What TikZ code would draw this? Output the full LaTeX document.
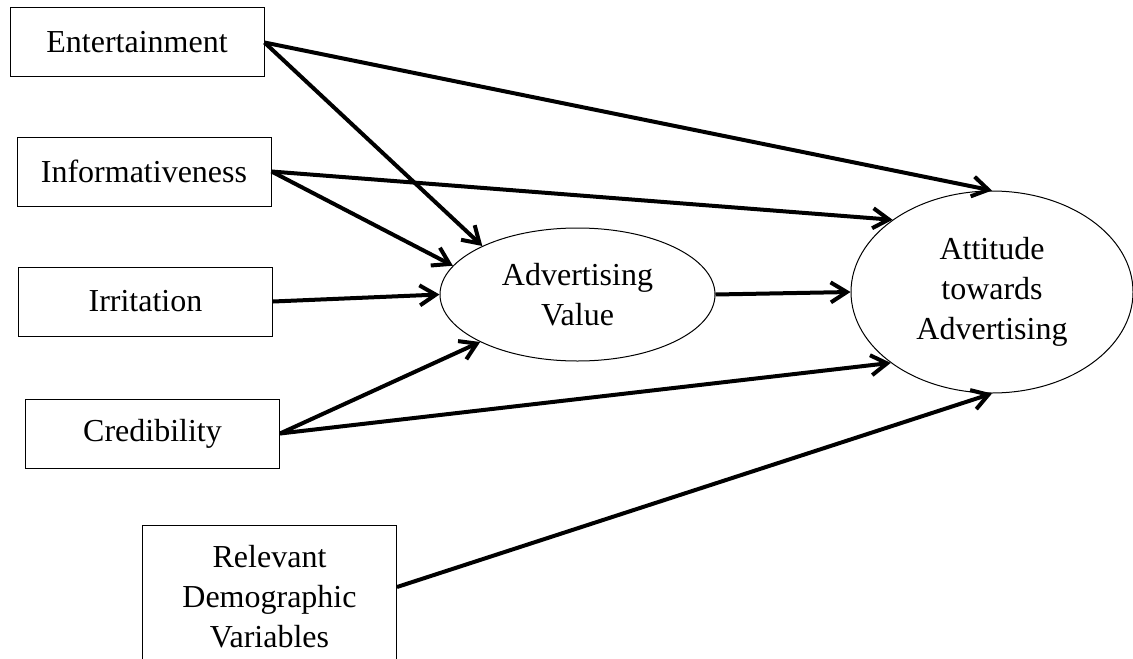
\documentclass[tikz,border=0pt]{standalone}
\usepackage{fontspec}
\setmainfont{Liberation Serif}
\usetikzlibrary{shapes.geometric,arrows.meta}

\begin{document}
\begin{tikzpicture}[
    x = 0.5pt,
    y = -0.5pt,
    every node/.style = {
      font = \fontsize{16}{20}\selectfont,
      align = center
    },
    factor/.style = {
      draw,
      line width = 0.5pt,
      minimum width = 127pt,
      minimum height = 34.5pt
    },
    construct/.style = {
      draw,
      ellipse,
      line width = 0.5pt,
      inner sep = 0pt
    },
    path/.style = {
      line width = 2pt,
      -{Straight Barb[length = 8pt, width = 10pt]}
    }
  ]
  \useasboundingbox (0,0) rectangle (1133,658);

  % The five boxes on the left
  \node[factor] (ent)  at (137,42.5)  {Entertainment};
  \node[factor] (inf)  at (144,171.5) {Informativeness};
  \node[factor] (irr)  at (145.5,301.5) {Irritation};
  \node[factor] (cred) at (152.5,433.5) {Credibility};
  \node[factor, minimum height = 72pt] (rel) at (269.5,597)
    {Relevant\\Demographic\\Variables};

  % The two ellipses
  \node[construct, minimum width = 137.5pt, minimum height = 66.5pt]
    (adv) at (577.5,294.5) {Advertising\\Value};
  \node[construct, minimum width = 141pt, minimum height = 101pt]
    (att) at (992,292) {Attitude\\towards\\Advertising};

  % Arrows into advertising value
  \draw[path] (ent.east)  -- (adv.153);
  \draw[path] (inf.east)  -- (adv.167);
  \draw[path] (irr.east)  -- (adv.180);
  \draw[path] (cred.east) -- (adv.206);

  % Arrows into attitude
  \draw[path] (ent.east)  -- (att.90);
  \draw[path] (inf.east)  -- (att.144);
  \draw[path] (adv.east)  -- (att.west);
  \draw[path] (cred.east) -- (att.215);
  \draw[path] ([yshift=5pt]rel.east) -- (att.270);
\end{tikzpicture}
\end{document}
